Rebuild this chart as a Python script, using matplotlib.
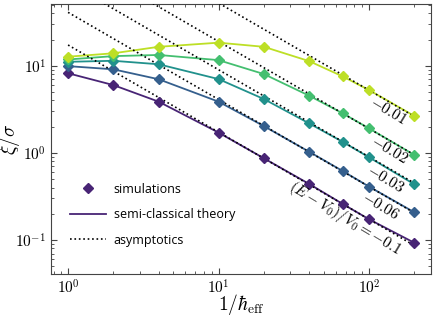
import numpy as np
import matplotlib
matplotlib.use("Agg")
import matplotlib.pyplot as plt
from matplotlib.ticker import FuncFormatter, LogLocator

plt.rcParams['mathtext.fontset'] = 'cm'

# data
inv_hbar = [1, 2, 4, 10, 20, 40, 66.7, 100, 200]
energies = ['-0.1', '-0.06', '-0.03', '-0.02', '-0.01']
xi_m010 = [8.2, 6.0, 3.87, 1.71, 0.867, 0.44, 0.26, 0.173, 0.093]
xi_m006 = [9.9, 9.1, 7.0, 3.87, 2.03, 1.03, 0.62, 0.41, 0.208]
xi_m003 = [11.1, 11.4, 10.4, 7.03, 4.15, 2.18, 1.34, 0.89, 0.436]
xi_m002 = [11.8, 12.9, 13.3, 11.6, 8.03, 4.53, 2.85, 1.91, 0.946]
xi_m001 = [12.7, 13.9, 16.5, 18.4, 16.5, 11.3, 7.55, 5.26, 2.65]
series = [xi_m010, xi_m006, xi_m003, xi_m002, xi_m001]

# asymptotic lines, value at x=1 and x=200
asym_x = [1, 200]
asym_start = [17.3, 41, 90, 190, 525]
asym_end = [0.0865, 0.205, 0.45, 0.95, 2.62]

# label positions (data coords)
lab_x = [69, 120, 128, 136, 134]
lab_y = [0.175, 0.245, 0.50, 1.08, 3.02]
lab_txt = [r'$(E-V_0)/V_0=-0.1$', r'$-0.06$', r'$-0.03$', r'$-0.02$', r'$-0.01$']

colors = plt.cm.viridis([0.1, 0.3, 0.5, 0.7, 0.9])

fig, ax = plt.subplots(figsize=(4.36, 3.15), dpi=100)
fig.subplots_adjust(left=0.117, right=0.9885, top=0.987, bottom=0.130)

for i, ys in enumerate(series):
    ax.plot(inv_hbar, ys, '-', color=colors[i], lw=1.3, zorder=2)
    ax.plot(asym_x, [asym_start[i], asym_end[i]], ':', color='black', lw=1.2, zorder=3)
    ax.plot(inv_hbar, ys, 'D', color=colors[i], ms=5.5, zorder=4, ls='none')
    ax.text(lab_x[i], lab_y[i], lab_txt[i], rotation=-31, ha='center', va='center',
            fontsize=11, zorder=5)

ax.set_xscale('log')
ax.set_yscale('log')
ax.set_xlim(0.77, 258)
ax.set_ylim(0.0407, 51)

fmt = FuncFormatter(lambda v, p: r'$10^{%d}$' % round(np.log10(v)))
ax.xaxis.set_major_formatter(fmt)
ax.yaxis.set_major_formatter(fmt)
ax.xaxis.set_major_locator(LogLocator(base=10, numticks=10))
ax.yaxis.set_major_locator(LogLocator(base=10, numticks=10))
ax.tick_params(which='both', direction='in', top=True, right=True, colors='#444444',
               labelcolor='black', labelsize=11)
ax.tick_params(which='major', length=4)
ax.tick_params(which='minor', length=2)
for s in ax.spines.values():
    s.set_color('#444444')

ax.set_xlabel(r'$1/\hbar_{\rm eff}$', fontsize=14)
ax.set_ylabel(r'$\xi/\sigma$', fontsize=14)
ax.xaxis.set_label_coords(0.5, -0.068)
ax.yaxis.set_label_coords(-0.076, 0.5)

# legend
h1, = ax.plot([], [], 'D', color=colors[0], ms=5.5, ls='none')
h2, = ax.plot([], [], '-', color=colors[0], lw=1.3)
h3, = ax.plot([], [], ':', color='black', lw=1.2)
ax.legend([h1, h2, h3], ['simulations', 'semi-classical theory', 'asymptotics'],
          loc='lower left', bbox_to_anchor=(0.02, 0.06), frameon=False,
          prop={'family': 'Open Sans', 'size': 9}, handlelength=2.9,
          labelspacing=1.0, handletextpad=0.6)

fig.savefig('out.png', dpi=100)
